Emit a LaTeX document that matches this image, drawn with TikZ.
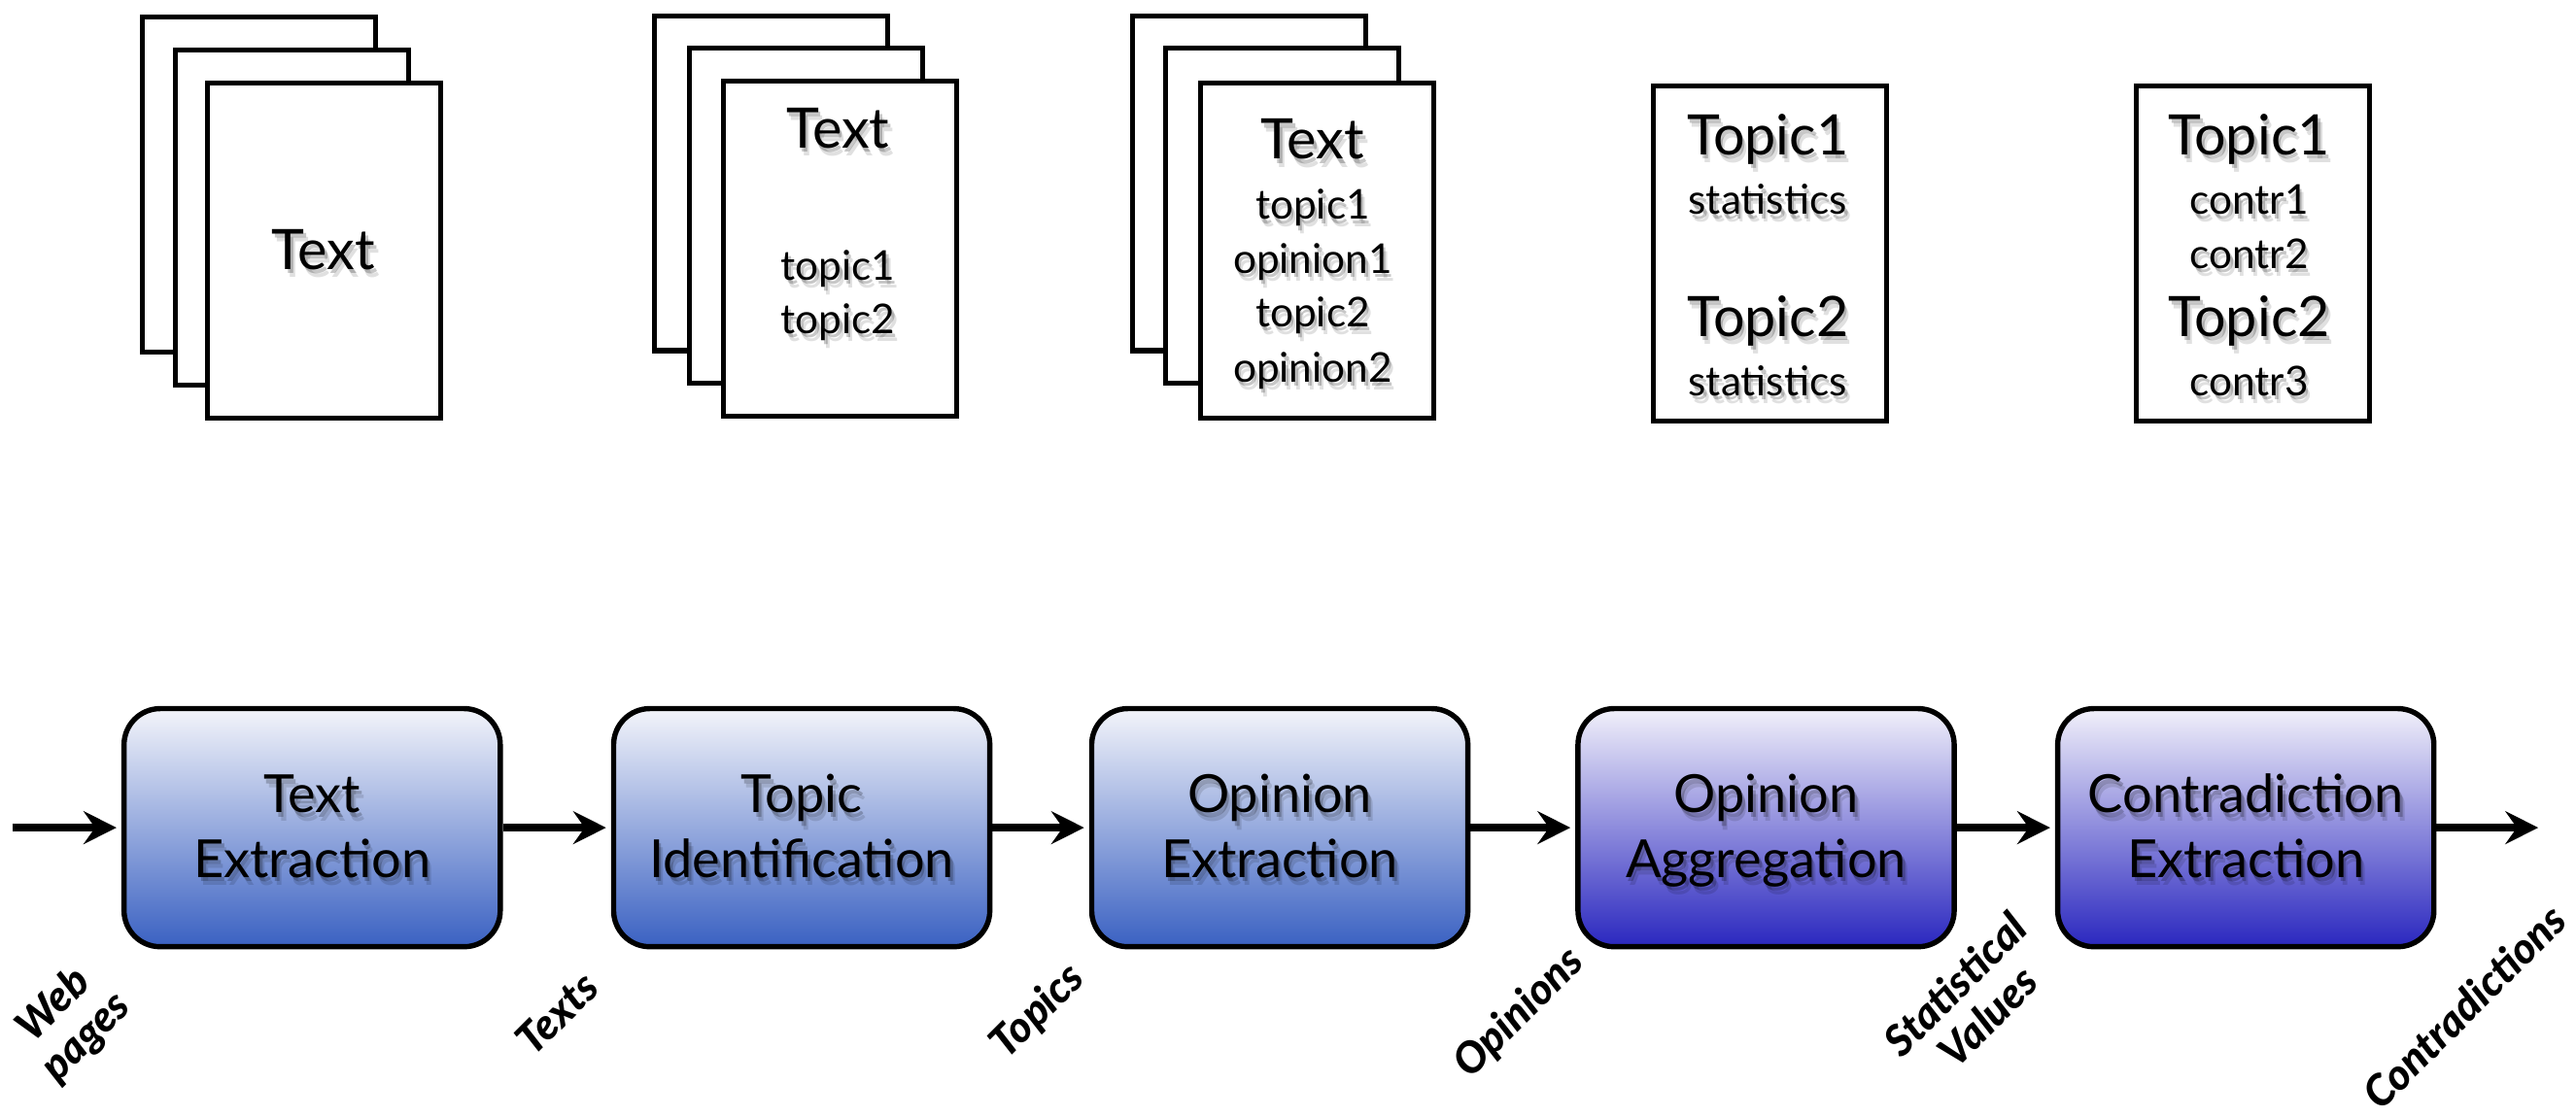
\documentclass[tikz,border=0pt]{standalone}
\usepackage{fontspec}
\setmainfont{Lato}
\newfontfamily\tagfont{Lato Black Italic}
\usetikzlibrary{arrows.meta}

\definecolor{blueTop}{HTML}{F3F4FA}
\definecolor{blueMid}{HTML}{A5B3DD}
\definecolor{blueBot}{HTML}{3A61C2}
\definecolor{violetTop}{HTML}{F1F0FA}
\definecolor{violetMid}{HTML}{A39DDE}
\definecolor{violetBot}{HTML}{2A27BF}

% word with a soft drop shadow underneath
\newcommand\softshadow[1]{\leavevmode
  \rlap{\pgfsetfillopacity{0.12}\kern1.4pt\raisebox{-2.4pt}{#1}}%
  \rlap{\pgfsetfillopacity{0.22}\kern0.8pt\raisebox{-1.3pt}{#1}}%
  \pgfsetfillopacity{1}#1}

\tikzset{
  page/.style={draw=black, fill=white, line width=1.5pt, minimum width=71pt,
    minimum height=102pt, anchor=north west, inner sep=0pt},
  stage/.style={draw=black, line width=1.6pt, rounded corners=11pt,
    minimum width=114.5pt, minimum height=72.5pt, inner sep=0pt},
  bluestage/.style={stage, top color=blueTop, middle color=blueMid, bottom color=blueBot},
  violetstage/.style={stage, top color=violetTop, middle color=violetMid, bottom color=violetBot},
  flow/.style={-{Stealth[length=10pt,width=10pt,inset=3.5pt]}, line width=2.4pt, shorten >=1.5pt},
  bigtext/.style={font=\fontsize{17}{20}\selectfont, anchor=base, inner sep=0pt},
  smalltext/.style={font=\fontsize{12.5}{15}\selectfont, anchor=base, inner sep=0pt},
  stagetext/.style={font=\fontsize{16}{19}\selectfont, anchor=base, inner sep=0pt},
  tag/.style={font=\fontsize{13}{14}\selectfont\tagfont, align=center,
    rotate=45, inner sep=0pt},
}

\begin{document}
\begin{tikzpicture}[x=0.5pt, y=-0.5pt]
\useasboundingbox (0,0) rectangle (1568,680);
\fill[white] (0,0) rectangle (1568,680);

% stacks of documents
\node[page] (s1a) at (85,9) {};
\node[page] (s1b) at (105,29) {};
\node[page] (s1c) at (125,49) {};
\node[page] (s2a) at (397,8) {};
\node[page] (s2b) at (418,28) {};
\node[page] (s2c) at (439,48) {};
\node[page] (s3a) at (688,8) {};
\node[page] (s3b) at (708,28) {};
\node[page] (s3c) at (729,49) {};
\node[page] (r4) at (1005,51) {};
\node[page] (r5) at (1299,51) {};

% contents of the documents
\node[bigtext] (d1t) at (197,164) {\softshadow{Text}};

\node[bigtext] (d2t) at (510,90) {\softshadow{Text}};
\node[smalltext] (d2a) at (510,170.5) {\softshadow{topic1}};
\node[smalltext] (d2b) at (510,203) {\softshadow{topic2}};

\node[bigtext] (d3t) at (799,97) {\softshadow{Text}};
\node[smalltext] (d3a) at (799,133.5) {\softshadow{topic1}};
\node[smalltext] (d3b) at (799,166.5) {\softshadow{opinion1}};
\node[smalltext] (d3c) at (799,199) {\softshadow{topic2}};
\node[smalltext] (d3d) at (799,232.5) {\softshadow{opinion2}};

\node[bigtext] (d4a) at (1076,94.3) {\softshadow{Topic1}};
\node[smalltext] (d4b) at (1076,130.5) {\softshadow{statistics}};
\node[bigtext] (d4c) at (1076,205) {\softshadow{Topic2}};
\node[smalltext] (d4d) at (1076,241) {\softshadow{statistics}};

\node[bigtext] (d5a) at (1369,94.3) {\softshadow{Topic1}};
\node[smalltext] (d5b) at (1369,130.5) {\softshadow{contr1}};
\node[smalltext] (d5c) at (1369,163.6) {\softshadow{contr2}};
\node[bigtext] (d5d) at (1369,205) {\softshadow{Topic2}};
\node[smalltext] (d5e) at (1369,241) {\softshadow{contr3}};

% processing stages
\node[bluestage] (te) at (190,504) {};
\node[bluestage] (ti) at (488,504) {};
\node[bluestage] (oe) at (779,504) {};
\node[violetstage] (oa) at (1075,504) {};
\node[violetstage] (ce) at (1367,504) {};

\node[stagetext] (te1) at (190,495) {\softshadow{Text}};
\node[stagetext] (te2) at (190,534.3) {\softshadow{Extraction}};
\node[stagetext] (ti1) at (488,495) {\softshadow{Topic}};
\node[stagetext] (ti2) at (488,534.3) {\softshadow{Identification}};
\node[stagetext] (oe1) at (779,495) {\softshadow{Opinion}};
\node[stagetext] (oe2) at (779,534.3) {\softshadow{Extraction}};
\node[stagetext] (oa1) at (1075,495) {\softshadow{Opinion}};
\node[stagetext] (oa2) at (1075,534.3) {\softshadow{Aggregation}};
\node[stagetext] (ce1) at (1367,495) {\softshadow{Contradiction}};
\node[stagetext] (ce2) at (1367,534.3) {\softshadow{Extraction}};

% data flow
\coordinate (src) at (7.5,504);
\coordinate (snk) at (1548,504);
\draw[flow] (src) -- (te.west);
\draw[flow] (te.east) -- (ti.west);
\draw[flow] (ti.east) -- (oe.west);
\draw[flow] (oe.east) -- (oa.west);
\draw[flow] (oa.east) -- (ce.west);
\draw[flow] (ce.east) -- (snk);

% data labels
\node[tag] (l1) at (43,622) {Web\\pages};
\node[tag] (l2) at (339,617) {Texts};
\node[tag] (l3) at (632,616) {Topics};
\node[tag] (l4) at (925,617) {Opinions};
\node[tag] (l5) at (1200,609) {Statistical\\Values};
\node[tag] (l6) at (1500,613) {Contradictions};
\end{tikzpicture}
\end{document}
